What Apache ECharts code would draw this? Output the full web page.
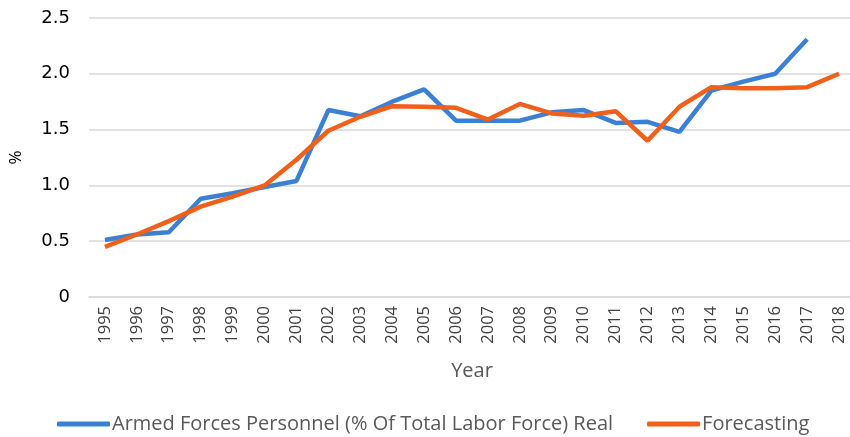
<!DOCTYPE html>
<html>
<head>
<meta charset="utf-8">
<script src="https://cdn.jsdelivr.net/npm/echarts@6/dist/echarts.min.js"></script>
<style>
  html, body { margin: 0; padding: 0; background: #fff; }
  #main { width: 850px; height: 437px; }
</style>
</head>
<body>
<div id="main"></div>
<script>
// years on the x axis
var years = ['1995', '1996', '1997', '1998', '1999', '2000', '2001', '2002', '2003', '2004', '2005', '2006',
  '2007', '2008', '2009', '2010', '2011', '2012', '2013', '2014', '2015', '2016', '2017', '2018']

// real values (no value for 2018)
var realValues = [0.51, 0.56, 0.58, 0.88, 0.93, 0.985, 1.04, 1.675, 1.62, 1.75, 1.86, 1.58,
  1.58, 1.58, 1.655, 1.675, 1.56, 1.57, 1.48, 1.85, 1.93, 2.0, 2.31, null]

// forecast values
var forecastValues = [0.45, 0.56, 0.68, 0.81, 0.9, 1.0, 1.23, 1.49, 1.615, 1.71, 1.705, 1.695,
  1.59, 1.73, 1.645, 1.625, 1.665, 1.40, 1.705, 1.88, 1.87, 1.87, 1.88, 2.0]

var yTicks = ['0', '0.5', '1.0', '1.5', '2.0', '2.5']

var seriesNames = ['Armed Forces Personnel (% Of Total Labor Force) Real', 'Forecasting']

var myChart = echarts.init(document.getElementById('main'))

var option = {
  animation: false,
  grid: {
    left: 89,
    right: -5,
    top: 18,
    bottom: 140,
    outerBoundsMode: 'none'
  },
  legend: {
    left: 52,
    top: 409,
    itemGap: 34,
    itemWidth: 53,
    itemHeight: 5,
    icon: 'roundRect',
    textStyle: {
      fontFamily: 'Open Sans',
      fontSize: 20,
      color: '#595959',
      padding: [0, 0, 0, -3]
    },
    data: seriesNames
  },
  xAxis: {
    type: 'category',
    data: years,
    boundaryGap: true,
    name: 'Year',
    nameLocation: 'middle',
    nameGap: 64,
    nameTextStyle: {
      fontFamily: 'Open Sans',
      fontSize: 20,
      color: '#595959'
    },
    axisLine: { show: true, lineStyle: { color: '#d9d9d9', width: 1.5 } },
    axisTick: { show: false },
    axisLabel: {
      rotate: 90,
      margin: 9,
      interval: 0,
      fontFamily: 'Open Sans',
      fontSize: 16.5,
      color: '#404040'
    }
  },
  yAxis: {
    type: 'value',
    min: 0,
    max: 2.5,
    interval: 0.5,
    name: '%',
    nameLocation: 'middle',
    nameGap: 64,
    nameRotate: 90,
    nameTextStyle: {
      fontFamily: 'Open Sans',
      fontSize: 17,
      color: '#000'
    },
    axisLine: { show: false },
    axisTick: { show: false },
    axisLabel: {
      margin: 19,
      fontFamily: 'DejaVu Sans',
      fontSize: 18,
      color: '#000',
      formatter: function (v) {
        return yTicks[Math.round(v / 0.5)]
      }
    },
    splitLine: {
      lineStyle: { color: '#d9d9d9', width: 1.5 }
    }
  },
  series: [
    {
      name: seriesNames[0],
      type: 'line',
      data: realValues,
      symbol: 'none',
      color: '#3b80d2',
      lineStyle: { color: '#3b80d2', width: 4.5 }
    },
    {
      name: seriesNames[1],
      type: 'line',
      data: forecastValues,
      symbol: 'none',
      color: '#f0601a',
      lineStyle: { color: '#f0601a', width: 4.5 }
    }
  ]
}

myChart.setOption(option)
</script>
</body>
</html>
